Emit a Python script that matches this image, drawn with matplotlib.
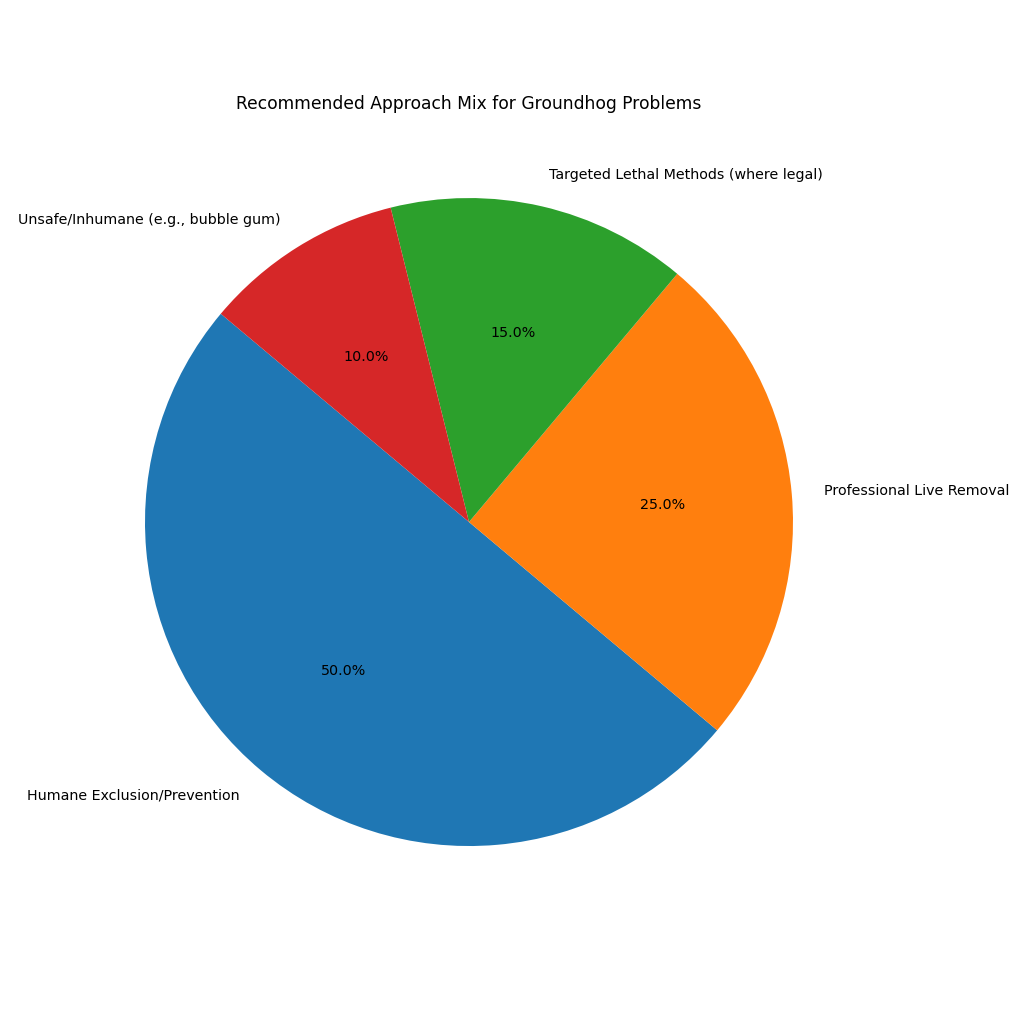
import matplotlib
matplotlib.use("Agg")
import matplotlib.pyplot as plt

labels = ["Humane Exclusion/Prevention", "Professional Live Removal",
          "Targeted Lethal Methods (where legal)", "Unsafe/Inhumane (e.g., bubble gum)"]
shares = [50, 25, 15, 10]
title = "Recommended Approach Mix for Groundhog Problems"

fig = plt.figure(figsize=(10, 10), dpi=102.4)
ax = fig.add_axes([0.0625, 0.0947, 0.791, 0.791])
ax.pie(shares, labels=labels, autopct="%1.1f%%", startangle=140,
       textprops={"fontsize": 10})
ax.set_title(title, fontsize=12)
fig.savefig("out.png", dpi=102.4)
